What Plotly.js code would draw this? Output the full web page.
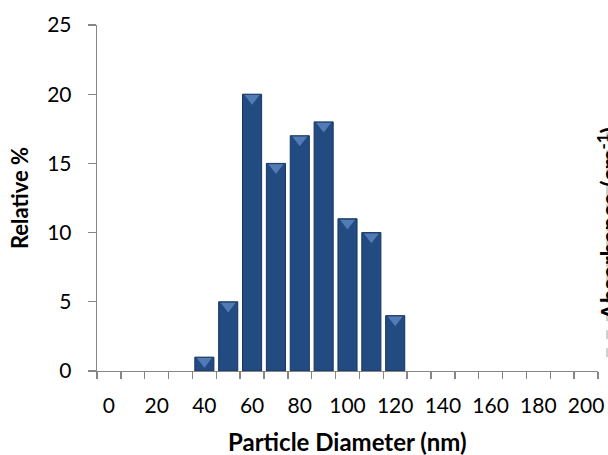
<!DOCTYPE html>
<html>
<head>
<meta charset="utf-8">
<script src="https://cdn.plot.ly/plotly-3.0.1.min.js"></script>
<style>html,body{margin:0;padding:0;background:#fff;}#chart{width:608px;height:455px;}</style>
</head>
<body>
<div id="chart"></div>
<script>
// Data
const diameters = [40, 50, 60, 70, 80, 90, 100, 110, 120];
const relativePct = [1, 5, 20, 15, 17, 18, 11, 10, 4];
const xTickVals = [0, 20, 40, 60, 80, 100, 120, 140, 160, 180, 200];
const xTickText = ['0', '20', '40', '60', '80', '100', '120', '140', '160', '180', '200'];
const yTickVals = [0, 5, 10, 15, 20, 25];

const FONT = 'Lato, "Open Sans", sans-serif';
const AXIS = '#868686';

const bars = {
  type: 'bar',
  x: diameters,
  y: relativePct,
  width: 8,
  marker: { color: '#224b82', line: { color: '#17355e', width: 1 } },
  hoverinfo: 'x+y',
  showlegend: false
};

// light bevel triangles at the top of each bar
const bevel = {
  type: 'scatter',
  mode: 'markers',
  x: diameters,
  y: relativePct.map(v => v - 0.3),
  marker: { symbol: 'triangle-down', size: 13, color: 'rgba(95,135,195,0.8)', line: { width: 0 } },
  hoverinfo: 'skip',
  showlegend: false,
  cliponaxis: false
};

const layout = {
  width: 608,
  height: 455,
  margin: { l: 97, r: 10, t: 25, b: 84 },
  paper_bgcolor: '#ffffff',
  plot_bgcolor: '#ffffff',
  font: { family: FONT, color: '#000000', size: 21 },
  xaxis: {
    range: [-5, 205],
    tickvals: xTickVals,
    ticktext: xTickText,
    ticks: '',
    ticklabelstandoff: 15,
    tickfont: { family: FONT, size: 21, color: '#000' },
    showline: true,
    linecolor: AXIS,
    linewidth: 1.3,
    showgrid: false,
    zeroline: false,
    fixedrange: true,
    minor: { tick0: 5, dtick: 10, ticks: 'outside', ticklen: 7, tickcolor: AXIS, tickwidth: 1.3, showgrid: false }
  },
  yaxis: {
    range: [0, 25],
    tickvals: yTickVals,
    ticks: 'outside',
    ticklen: 8,
    tickcolor: AXIS,
    tickwidth: 1.3,
    ticklabelstandoff: 12,
    tickfont: { family: FONT, size: 21, color: '#000' },
    showline: true,
    linecolor: AXIS,
    linewidth: 1.3,
    showgrid: false,
    zeroline: false,
    fixedrange: true,
    title: { text: 'Relative %', font: { family: FONT, size: 22, color: '#000', weight: 'bold' }, standoff: 12 }
  },
  annotations: [
    {
      xref: 'paper', yref: 'paper', x: 0.5, y: -0.205, yanchor: 'middle', xanchor: 'center',
      text: '<b>Particle Diameter (nm)</b>', showarrow: false,
      font: { family: FONT, size: 24, color: '#000' }
    },
    {
      xref: 'paper', yref: 'paper', x: 0.984, y: 0.425, xanchor: 'left', yanchor: 'middle',
      textangle: -90, text: '<b>Absorbance (cm<sup>-1</sup>)</b>', showarrow: false,
      font: { family: FONT, size: 24, color: '#000' }
    }
  ],
  shapes: [
    {
      type: 'line', xref: 'paper', yref: 'paper', x0: 1.018, x1: 1.018, y0: 0.04, y1: 0.7,
      line: { color: '#a0a0a0', width: 1, dash: 'dash' }
    }
  ]
};

Plotly.newPlot('chart', [bars, bevel], layout, { displayModeBar: false, staticPlot: true });
</script>
</body>
</html>
